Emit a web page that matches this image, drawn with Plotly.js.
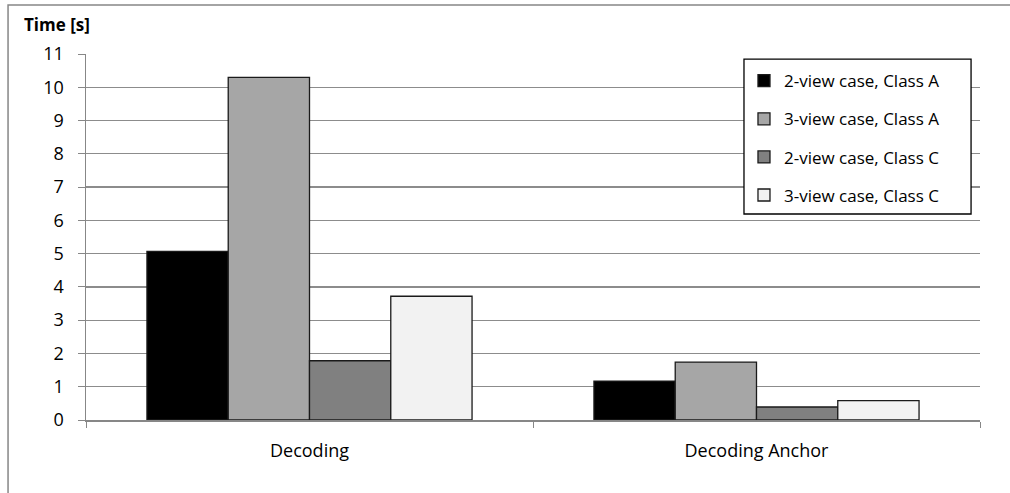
<!DOCTYPE html>
<html>
<head>
<meta charset="utf-8">
<script src="https://cdn.plot.ly/plotly-3.0.1.min.js"></script>
<style>
html,body{margin:0;padding:0;background:#fff;}
#chart{width:1010px;height:493px;}
</style>
</head>
<body>
<div id="chart"></div>
<script>
var categories = ["Decoding", "Decoding Anchor"];
var seriesNames = ["2-view case, Class A", "3-view case, Class A", "2-view case, Class C", "3-view case, Class C"];
var twoViewA = [5.07, 1.17];
var threeViewA = [10.3, 1.74];
var twoViewC = [1.78, 0.39];
var threeViewC = [3.72, 0.58];
var yTicks = [0,1,2,3,4,5,6,7,8,9,10,11];

var values = [twoViewA, threeViewA, twoViewC, threeViewC];
var fills = ["#000000", "#a6a6a6", "#808080", "#f2f2f2"];
var FONT = "'Open Sans', Lato, 'DejaVu Sans', sans-serif";

var traces = values.map(function(v, i){
  return {
    type: "bar",
    name: seriesNames[i],
    x: categories,
    y: v,
    legendgroup: "g" + i,
    marker: {color: fills[i], line: {color: "#1a1a1a", width: 1.3}},
    hoverinfo: "y"
  };
});

var layout = {
  width: 1010, height: 493,
  margin: {l: 86, r: 30, t: 54, b: 73},
  paper_bgcolor: "#ffffff",
  plot_bgcolor: "#ffffff",
  barmode: "group",
  bargap: 0.2727,
  bargroupgap: 0,
  font: {family: FONT, size: 18, color: "#000"},
  xaxis: {
    type: "category",
    showgrid: false,
    showline: true, linecolor: "#878787", linewidth: 1.5,
    ticks: "outside", tickson: "boundaries", ticklen: 6, tickcolor: "#878787",
    ticklabelstandoff: 14,
    tickfont: {family: FONT, size: 18, color: "#000"},
    zeroline: false
  },
  yaxis: {
    range: [0, 11],
    tickvals: yTicks,
    ticktext: yTicks.map(String),
    showgrid: true, gridcolor: "#8c8c8c", gridwidth: 1.2,
    showline: true, linecolor: "#878787", linewidth: 1.5,
    ticks: "outside", ticklen: 7, tickcolor: "#878787",
    ticklabelstandoff: 10,
    tickfont: {family: FONT, size: 18, color: "#000"},
    zeroline: false,
    fixedrange: true
  },
  legend: {
    x: 0.736, y: 0.975, xanchor: "left", yanchor: "top",
    bgcolor: "rgba(0,0,0,0)", borderwidth: 0,
    font: {family: FONT, size: 17, color: "#000"},
    tracegroupgap: 13,
    itemwidth: 30,
    traceorder: "grouped"
  },
  showlegend: true,
  annotations: [{
    text: "<b>Time [s]</b>", xref: "paper", yref: "paper",
    x: -0.072, y: 1.045, xanchor: "left", yanchor: "bottom",
    showarrow: false, font: {family: FONT, size: 17, color: "#000"}
  }],
  shapes: [
    {
      type: "rect", xref: "paper", yref: "paper",
      x0: -0.0872, x1: 1.1, y0: -0.3, y1: 1.134,
      line: {color: "#878787", width: 1.5}, fillcolor: "rgba(0,0,0,0)", layer: "below"
    },
    {
      type: "rect", xref: "paper", yref: "paper",
      x0: 0.736, x1: 0.990, y0: 0.5628, y1: 0.986,
      line: {color: "#000000", width: 1.3}, fillcolor: "#ffffff", layer: "above"
    }
  ]
};

Plotly.newPlot("chart", traces, layout, {displayModeBar: false, staticPlot: true});
</script>
</body>
</html>
